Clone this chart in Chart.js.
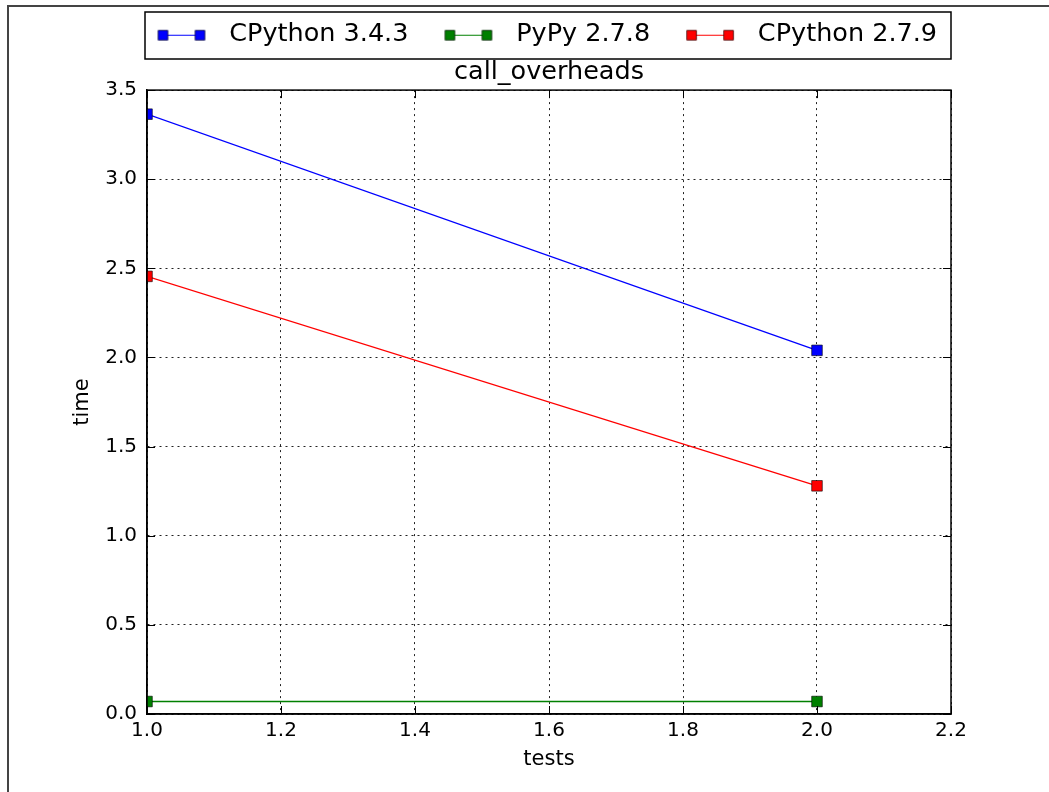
<!DOCTYPE html>
<html>
<head>
<meta charset="utf-8">
<script src="https://cdn.jsdelivr.net/npm/chart.js@4.4.1/dist/chart.umd.min.js"></script>
<style>
  body { margin: 0; background: #fff; }
  #wrap { width: 1049px; height: 792px; }
</style>
</head>
<body>
<div id="wrap"><canvas id="myChart" width="1049" height="792"></canvas></div>
<script>
const xValues = [1.0, 2.0];
const cpython343 = [3.365, 2.04];
const pypy278 = [0.07, 0.07];
const cpython279 = [2.455, 1.28];
const xTicks = [1.0, 1.2, 1.4, 1.6, 1.8, 2.0, 2.2];
const yTicks = [0.0, 0.5, 1.0, 1.5, 2.0, 2.5, 3.0, 3.5];

const FONT = "'DejaVu Sans', sans-serif";

// legend sample: line with a square marker at each end
// (drawn into a wide canvas so the spacing round it matches the original)
function legendMark(color) {
    const c = document.createElement("canvas");
    c.width = 85;
    c.height = 14;
    const g = c.getContext("2d");
    const x0 = 26.5;
    g.strokeStyle = color;
    g.lineWidth = 1;
    g.beginPath();
    g.moveTo(x0 + 5, 7.5);
    g.lineTo(x0 + 42, 7.5);
    g.stroke();
    g.fillStyle = color;
    g.strokeStyle = "#000";
    g.lineWidth = 0.6;
    [x0, x0 + 37].forEach(x => {
        g.fillRect(x, 2.5, 10, 10);
        g.strokeRect(x + 0.3, 2.8, 9.4, 9.4);
    });
    return c;
}

function toPoints(ys) {
    return xValues.map((x, i) => ({ x: x, y: ys[i] }));
}

const mplFrame = {
    id: "mplFrame",
    afterLayout(chart) {
        // start legend row near the plot's left edge, like matplotlib's box
        chart.legend.left = chart.chartArea.left - 25.5;
        // centre the title over the plot area
        chart.titleBlock.left = chart.chartArea.left;
        chart.titleBlock.right = chart.chartArea.right;
    },
    afterDraw(chart) {
        const ctx = chart.ctx;
        const a = chart.chartArea;
        ctx.save();
        // plot box
        ctx.strokeStyle = "#000";
        ctx.lineWidth = 1.5;
        ctx.strokeRect(a.left, a.top, a.right - a.left, a.bottom - a.top);
        // inward ticks
        ctx.lineWidth = 1;
        const xs = chart.scales.x, ys = chart.scales.y;
        ctx.beginPath();
        xTicks.forEach(v => {
            const px = Math.round(xs.getPixelForValue(v)) + 0.5;
            ctx.moveTo(px, a.bottom); ctx.lineTo(px, a.bottom - 8);
            ctx.moveTo(px, a.top); ctx.lineTo(px, a.top + 8);
        });
        yTicks.forEach(v => {
            const py = Math.round(ys.getPixelForValue(v)) + 0.5;
            ctx.moveTo(a.left, py); ctx.lineTo(a.left + 8, py);
            ctx.moveTo(a.right, py); ctx.lineTo(a.right - 8, py);
        });
        ctx.stroke();
        // legend box
        const lg = chart.legend;
        ctx.lineWidth = 1.5;
        ctx.strokeRect(a.left - 2, lg.top, a.right - a.left + 2, 47);
        // outer frame (top and left edges)
        ctx.strokeStyle = "#444";
        ctx.lineWidth = 2;
        ctx.beginPath();
        ctx.moveTo(8, 792);
        ctx.lineTo(8, 6);
        ctx.lineTo(1049, 6);
        ctx.stroke();
        ctx.restore();
    }
};

new Chart("myChart", {
    type: "line",
    data: {
        datasets: [
            {
                label: "CPython 3.4.3",
                data: toPoints(cpython343),
                borderColor: "#0000ff",
                backgroundColor: "#0000ff",
                pointBorderColor: "#000",
                fill: false,
            },
            {
                label: "PyPy 2.7.8",
                data: toPoints(pypy278),
                borderColor: "#008000",
                backgroundColor: "#008000",
                pointBorderColor: "#000",
                fill: false,
            },
            {
                label: "CPython 2.7.9",
                data: toPoints(cpython279),
                borderColor: "#ff0000",
                backgroundColor: "#ff0000",
                pointBorderColor: "#000",
                fill: false,
            },
        ],
    },
    options: {
        responsive: false,
        animation: false,
        layout: { padding: { top: 12, right: 98, left: 0, bottom: 0 } },
        elements: {
            line: { borderWidth: 1.3, tension: 0 },
            point: { pointStyle: "rect", radius: 7.5, borderWidth: 0.6 },
        },
        plugins: {
            legend: {
                display: true,
                align: "start",
                labels: {
                    color: "#000",
                    font: { family: FONT, size: 25.5 },
                    usePointStyle: true,
                    pointStyleWidth: 85,
                    padding: 10,
                    generateLabels(chart) {
                        return chart.data.datasets.map((ds, i) => ({
                            text: ds.label,
                            datasetIndex: i,
                            pointStyle: legendMark(ds.borderColor),
                            fontColor: "#000",
                            lineWidth: 0,
                            strokeStyle: "transparent",
                            fillStyle: "transparent",
                        }));
                    },
                },
            },
            title: {
                display: true,
                text: "call_overheads",
                color: "#000",
                weight: 500,
                font: { family: FONT, size: 25.5, weight: "normal" },
                padding: { top: 0, bottom: 2 },
            },
            tooltip: { enabled: false },
        },
        scales: {
            x: {
                type: "linear",
                min: 1.0,
                max: 2.2,
                afterBuildTicks(scale) { scale.ticks = xTicks.map(v => ({ value: v })); },
                afterFit(scale) { scale.height = 78; },
                ticks: {
                    color: "#000",
                    font: { family: FONT, size: 20 },
                    padding: 5,
                    callback: v => v.toFixed(1),
                },
                grid: { color: "#222", drawTicks: false },
                border: { color: "#000", width: 1.5, dash: [2, 4] },
                title: {
                    display: true,
                    text: "tests",
                    color: "#000",
                    font: { family: FONT, size: 21 },
                    padding: { top: 0, bottom: 20 },
                },
            },
            y: {
                min: 0,
                max: 3.5,
                afterBuildTicks(scale) { scale.ticks = yTicks.map(v => ({ value: v })); },
                afterFit(scale) { scale.width = 147; },
                ticks: {
                    color: "#000",
                    font: { family: FONT, size: 20 },
                    padding: 10,
                    callback: v => v.toFixed(1),
                },
                grid: { color: "#222", drawTicks: false },
                border: { color: "#000", width: 1.5, dash: [2, 4] },
                title: {
                    display: true,
                    text: "time",
                    color: "#000",
                    font: { family: FONT, size: 21 },
                    padding: { top: 70, bottom: 0 },
                },
            },
        },
    },
    plugins: [mplFrame],
});
</script>
</body>
</html>
